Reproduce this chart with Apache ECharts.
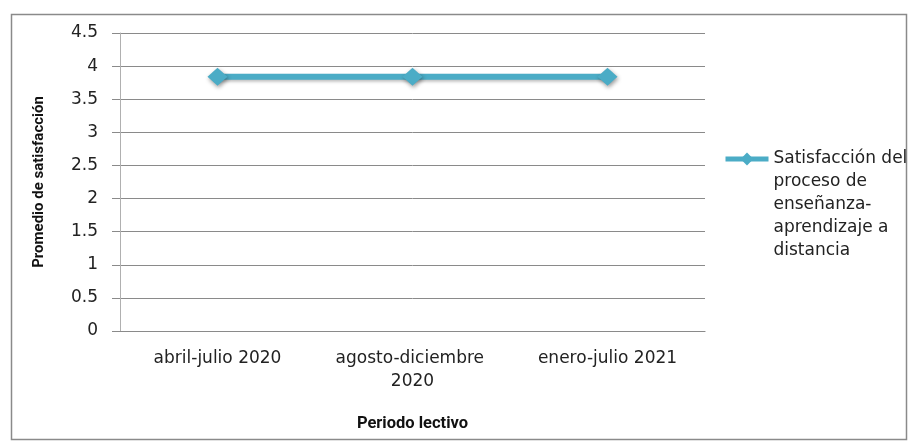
<!DOCTYPE html>
<html><head><meta charset="utf-8">
<script src="https://cdn.jsdelivr.net/npm/echarts@6/dist/echarts.min.js"></script>
<style>html,body{margin:0;padding:0;background:#fff}#c{width:912px;height:445px}</style>
</head><body><div id="c"></div>
<script>
var categories = ["abril-julio 2020", "agosto-diciembre 2020", "enero-julio 2021"];
var seriesName = "Satisfacción del proceso de enseñanza-aprendizaje a distancia";
var legendLines = ["Satisfacción del", "proceso de", "enseñanza-", "aprendizaje a", "distancia"];
var values = [3.84, 3.84, 3.84];
var yTicks = { min: 0, max: 4.5, interval: 0.5 };
var yTitle = "Promedio de satisfacción";
var xTitle = "Periodo lectivo";

var chart = echarts.init(document.getElementById('c'), null, {renderer: 'canvas'});
var font = "DejaVu Sans";
var color = "#4bacc6";
var lh = 23;
var pad = [];
for (var i = 1; i < legendLines.length; i++) pad.push(' ');
var legendText = pad.concat(legendLines).join('\n');
var nLines = pad.length + legendLines.length;
chart.setOption({
  animation: false,
  graphic: [{
    type: 'rect', left: 9, top: 12, shape: {width: 895, height: 425},
    style: {fill: 'none', stroke: '#8a8a8a', lineWidth: 1.5}, silent: true
  }],
  grid: {left: 120, right: 207, top: 33, bottom: 114, containLabel: false},
  legend: {
    show: true, left: 723, top: 159 - nLines * lh / 2, padding: 0,
    orient: 'vertical', itemWidth: 43, itemHeight: 16, itemGap: 0,
    formatter: function () { return legendText; },
    textStyle: {fontFamily: font, fontSize: 17, color: '#222', lineHeight: lh},
    lineStyle: {width: 5, color: color},
    data: [seriesName]
  },
  xAxis: {
    type: 'category', data: categories, boundaryGap: true,
    axisLine: {lineStyle: {color: '#8a8a8a', width: 1.2}},
    axisTick: {show: false},
    axisLabel: {interval: 0, fontFamily: font, fontSize: 17, color: '#222',
      margin: 16, width: 180, overflow: 'break', lineHeight: 23},
    name: xTitle, nameLocation: 'middle', nameGap: 84,
    nameTextStyle: {fontFamily: "Roboto", fontSize: 16.5, fontWeight: 'bold', color: '#111'}
  },
  yAxis: {
    type: 'value', min: yTicks.min, max: yTicks.max, interval: yTicks.interval,
    axisLine: {show: true, lineStyle: {color: '#b0b0b0', width: 1}},
    axisTick: {show: true, length: 8, lineStyle: {color: '#8a8a8a'}},
    splitLine: {show: true, lineStyle: {color: '#8a8a8a', width: 1}},
    axisLabel: {fontFamily: font, fontSize: 17, color: '#222', margin: 22},
    name: yTitle, nameLocation: 'middle', nameGap: 73, nameRotate: 90,
    nameTextStyle: {fontFamily: "Roboto", fontSize: 15, fontWeight: 'bold', color: '#111'}
  },
  series: [{
    name: seriesName, type: 'line', data: values,
    symbol: 'diamond', symbolSize: [20, 18],
    lineStyle: {color: color, width: 6, shadowColor: 'rgba(0,0,0,0.25)', shadowBlur: 3, shadowOffsetY: 2},
    itemStyle: {color: color, shadowColor: 'rgba(0,0,0,0.4)', shadowBlur: 4, shadowOffsetX: 1, shadowOffsetY: 2}
  }]
});
</script></body></html>
